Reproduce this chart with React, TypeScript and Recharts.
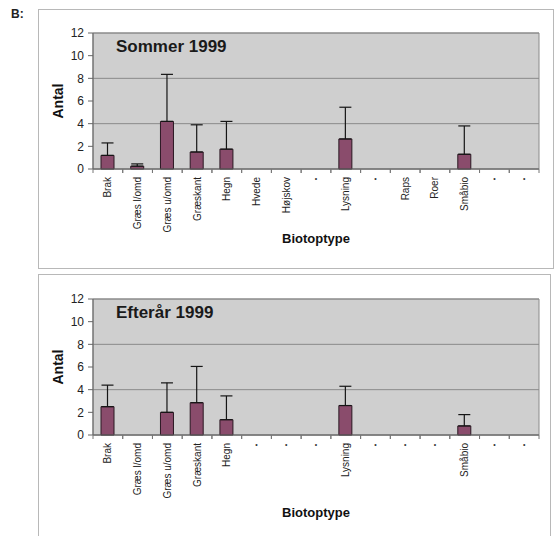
import {
  BarChart,
  Bar,
  XAxis,
  YAxis,
  CartesianGrid,
  ErrorBar,
  ReferenceArea,
  Label,
} from "recharts";

// Sommer 1999
const summerCategories = [
  "Brak", "Græs l/omd", "Græs u/omd", "Græskant", "Hegn", "Hvede", "Højskov", "•",
  "Lysning", "•", "Raps", "Roer", "Småbio", "•", "•",
];
const summerMeans = [1.2, 0.25, 4.2, 1.5, 1.75, 0, 0, 0, 2.65, 0, 0, 0, 1.3, 0, 0];
const summerSd = [1.1, 0.2, 4.15, 2.4, 2.45, null, null, null, 2.8, null, null, null, 2.5, null, null];

// Efterår 1999
const autumnCategories = [
  "Brak", "Græs l/omd", "Græs u/omd", "Græskant", "Hegn", "•", "•", "•",
  "Lysning", "•", "•", "•", "Småbio", "•", "•",
];
const autumnMeans = [2.5, 0, 2.0, 2.85, 1.35, 0, 0, 0, 2.6, 0, 0, 0, 0.8, 0, 0];
const autumnSd = [1.9, null, 2.6, 3.2, 2.1, null, null, null, 1.7, null, null, null, 1.0, null, null];

const yTicks = [0, 2, 4, 6, 8, 10, 12];

const CHART_W = 514;
const CHART_H = 258;
const PLOT_W = 446;
const HALF_BAND = PLOT_W / 15 / 2;

function CategoryTick({ x, y, payload }: { x?: number; y?: number; payload?: { value: string } }) {
  const cx = x ?? 0;
  const cy = y ?? 0;
  const label = payload?.value ?? "";
  return (
    <g>
      <line x1={cx - HALF_BAND} x2={cx - HALF_BAND} y1={cy} y2={cy + 4} stroke="#777" />
      <line x1={cx + HALF_BAND} x2={cx + HALF_BAND} y1={cy} y2={cy + 4} stroke="#777" />
      {label === "•" ? (
        <text x={cx} y={cy + 12} textAnchor="middle" fontSize={7} fill="#333">
          •
        </text>
      ) : (
        <text
          x={cx}
          y={cy + 8}
          dy="0.35em"
          textAnchor="end"
          fontSize={10}
          fill="#222"
          transform={`rotate(-90 ${cx} ${cy + 8})`}
        >
          {label}
        </text>
      )}
    </g>
  );
}

interface PanelProps {
  title: string;
  categories: string[];
  means: number[];
  sd: (number | null)[];
  box: { left: number; top: number; width: number; height: number };
  plotTop: number;
  titleTop: number;
  xLabelOffset: number;
}

function Panel({ title, categories, means, sd, box, plotTop, titleTop, xLabelOffset }: PanelProps) {
  const data = categories.map((name, i) => ({
    name,
    antal: means[i],
    err: sd[i] == null ? null : [0, sd[i]],
  }));
  const xAxisHeight = CHART_H - plotTop - 136;

  return (
    <div
      style={{
        position: "absolute",
        left: box.left,
        top: box.top,
        width: box.width,
        height: box.height,
        boxSizing: "border-box",
        border: "1px solid #b8b8b8",
        background: "#fff",
      }}
    >
      <BarChart
        width={CHART_W}
        height={CHART_H}
        data={data}
        margin={{ top: plotTop, right: 14, bottom: 0, left: 0 }}
        barSize={13}
      >
        <CartesianGrid vertical={false} fill="#cfcfcf" stroke="#8a8a8a" strokeWidth={1} />
        <ReferenceArea y1={0} y2={12} fill="none" stroke="#8a8a8a" />
        <XAxis
          dataKey="name"
          interval={0}
          height={xAxisHeight}
          axisLine={{ stroke: "#666" }}
          tickLine={false}
          tickSize={0}
          tickMargin={0}
          tick={<CategoryTick />}
        >
          <Label
            value="Biotoptype"
            position="insideBottom"
            offset={xLabelOffset}
            style={{ fontWeight: 700, fontSize: 13, fill: "#111" }}
          />
        </XAxis>
        <YAxis
          domain={[0, 12]}
          ticks={yTicks}
          width={54}
          tickSize={5}
          tickMargin={4}
          axisLine={{ stroke: "#666" }}
          tickLine={{ stroke: "#666" }}
          tick={{ fontSize: 12, fill: "#222" }}
        >
          <Label
            value="Antal"
            angle={-90}
            position="insideLeft"
            offset={19}
            style={{ textAnchor: "middle", fontWeight: 700, fontSize: 14, fill: "#111" }}
          />
        </YAxis>
        <Bar
          dataKey="antal"
          fill="#8a4c6c"
          stroke="#2a1822"
          strokeWidth={1}
          isAnimationActive={false}
        >
          <ErrorBar dataKey="err" width={6} stroke="#151515" strokeWidth={1.2} direction="y" />
        </Bar>
      </BarChart>
      <div
        style={{
          position: "absolute",
          left: 116 - box.left - 1,
          top: titleTop - box.top - 1,
          fontSize: 17,
          lineHeight: "17px",
          fontWeight: 700,
          color: "#1a1a1a",
          whiteSpace: "nowrap",
        }}
      >
        {title}
      </div>
    </div>
  );
}

export default function App() {
  return (
    <div
      style={{
        position: "absolute",
        left: 0,
        top: 0,
        width: 558,
        height: 536,
        overflow: "hidden",
        background: "#fff",
        fontFamily: "'Liberation Sans', Arial, sans-serif",
      }}
    >
      <div style={{ position: "absolute", left: 11, top: 7, fontSize: 12, fontWeight: 700, color: "#222" }}>
        B:
      </div>
      <Panel
        title="Sommer 1999"
        categories={summerCategories}
        means={summerMeans}
        sd={summerSd}
        box={{ left: 38, top: 9, width: 516, height: 260 }}
        plotTop={23}
        titleTop={38}
        xLabelOffset={25}
      />
      <Panel
        title="Efterår 1999"
        categories={autumnCategories}
        means={autumnMeans}
        sd={autumnSd}
        box={{ left: 38, top: 274, width: 513, height: 270 }}
        plotTop={24}
        titleTop={304}
        xLabelOffset={16}
      />
    </div>
  );
}
